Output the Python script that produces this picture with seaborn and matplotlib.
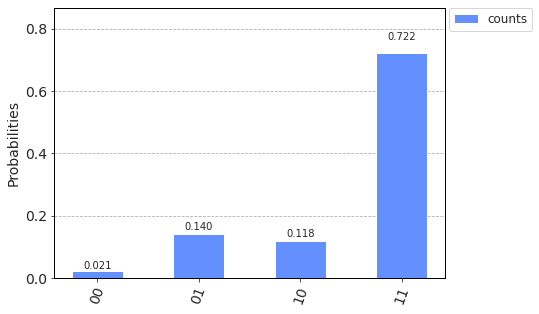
import matplotlib
matplotlib.use("Agg")
import matplotlib.pyplot as plt
import seaborn as sns
import pandas as pd

states = ["00", "01", "10", "11"]
probabilities = [0.021, 0.140, 0.118, 0.722]
series_name = "counts"

df = pd.DataFrame({"state": states, "prob": probabilities, "series": [series_name] * len(states)})

sns.set_style("white")
plt.rcParams["font.family"] = ["DejaVu Sans"]

DPI = 72
fig, ax = plt.subplots(figsize=(539/DPI, 314/DPI), dpi=DPI)
fig.subplots_adjust(left=54/539, right=445/539, top=1-8/314, bottom=1-278/314)

sns.barplot(data=df, x="state", y="prob", hue="series", palette=["#648FFF"],
            width=0.5, ax=ax, saturation=1, zorder=2)

for i, v in enumerate(probabilities):
    ax.text(i, 1.05 * v, f"{v:.3f}", ha="center", va="bottom", fontsize=10)

ax.set_ylim(0, max(probabilities) * 1.2)
ax.set_xlim(-0.425, 3.425)
ax.set_xlabel("")
ax.set_ylabel("Probabilities", fontsize=14)
ax.tick_params(axis="both", labelsize=14)
ax.tick_params(axis="both", which="major", length=3.5, direction="out", left=True, bottom=True)
plt.setp(ax.get_xticklabels(), rotation=70)
ax.set_yticks([0, 0.2, 0.4, 0.6, 0.8])
ax.yaxis.grid(True, linestyle="--", color="#b0b0b0", linewidth=0.8, zorder=0)
ax.set_axisbelow(True)
for s in ax.spines.values():
    s.set_color("black")
    s.set_linewidth(1)

ax.legend(loc="upper left", bbox_to_anchor=(1.01, 1.0), borderaxespad=0,
          fontsize=12, frameon=True)

fig.savefig("out.png", dpi=DPI)
